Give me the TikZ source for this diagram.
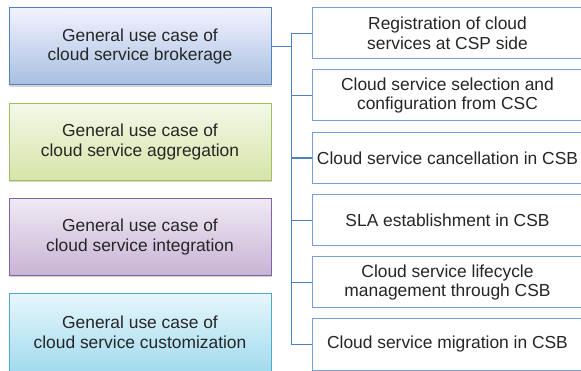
\documentclass[tikz,border=0pt]{standalone}
\usepackage{fontspec}
\setmainfont{Liberation Sans}
\usetikzlibrary{shadows}
\definecolor{linkblue}{HTML}{4F81BD}
\definecolor{taskblue}{HTML}{7A9FD2}
\tikzset{case/.style={line width=1pt, minimum width=262pt, minimum height=77pt,
      align=center, font=\fontsize{17.4}{19.5}\selectfont, text=black!85,
      drop shadow={shadow xshift=1pt, shadow yshift=-2pt, opacity=0.35}}}
\tikzset{task/.style={draw=taskblue, line width=1pt, fill=white,
      minimum width=271pt, minimum height=51pt, align=center,
      font=\fontsize{17.4}{19.5}\selectfont, text=black!85}}
\tikzset{link/.style={draw=linkblue, line width=1.3pt}}

\begin{document}
\begin{tikzpicture}[x=1pt, y=-1pt]
    \useasboundingbox (0,0) rectangle (581,371);
    % left column
    \node[case, draw=linkblue, top color=blue!5!white, bottom color={rgb,255:red,167;green,191;blue,224}]
      (brokerage) at (140,46.5) {General use case of\\cloud service brokerage};
    \node[case, draw={rgb,255:red,160;green,192;blue,95}, top color={rgb,255:red,244;green,248;blue,232}, bottom color={rgb,255:red,214;green,228;blue,167}]
      (aggregation) at (140,142) {General use case of\\cloud service aggregation};
    \node[case, draw={rgb,255:red,128;green,100;blue,162}, top color={rgb,255:red,240;green,234;blue,243}, bottom color={rgb,255:red,200;green,179;blue,214}]
      (integration) at (140,237) {General use case of\\cloud service integration};
    \node[case, draw={rgb,255:red,75;green,172;blue,198}, top color={rgb,255:red,230;green,246;blue,252}, bottom color={rgb,255:red,163;green,219;blue,238}]
      (customization) at (140,332.5) {General use case of\\cloud service customization};
    % right column
    \node[task] (t1) at (447.5,33.5) {Registration of cloud\\services at CSP side};
    \node[task] (t2) at (447.5,95.5) {Cloud service selection and\\configuration from CSC};
    \node[task] (t3) at (447.5,158) {Cloud service cancellation in CSB};
    \node[task] (t4) at (447.5,220.5) {SLA establishment in CSB};
    \node[task] (t5) at (447.5,282.5) {Cloud service lifecycle\\management through CSB};
    \node[task] (t6) at (447.5,344.5) {Cloud service migration in CSB};
    \foreach \t in {t1,t2,t3,t4,t5,t6}
      \draw[link] (brokerage.east) -- ++(20,0) |- (\t.west);
\end{tikzpicture}
\end{document}
